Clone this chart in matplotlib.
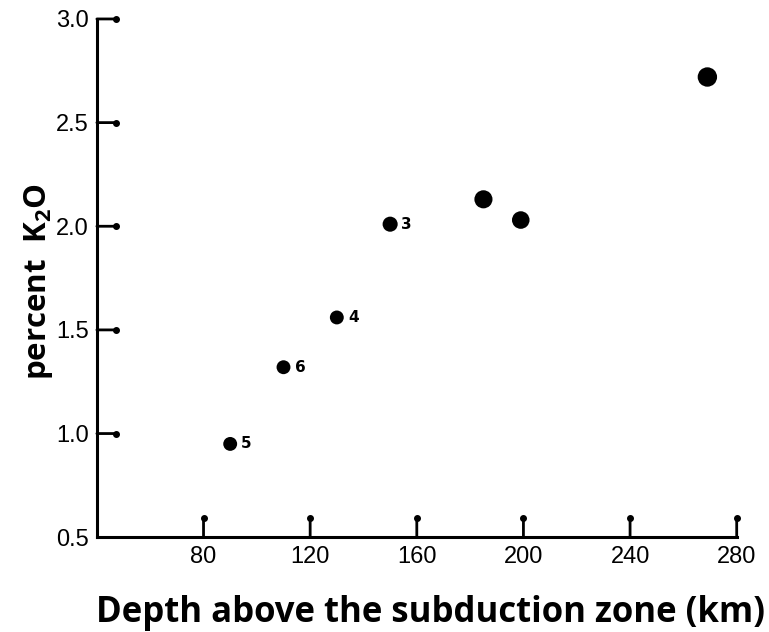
import matplotlib
matplotlib.use("Agg")
import matplotlib.pyplot as plt
from matplotlib.transforms import offset_copy

plt.rcParams["mathtext.fontset"] = "custom"
plt.rcParams["mathtext.bf"] = "Open Sans:bold"
plt.rcParams["mathtext.rm"] = "Open Sans:bold"

# Data
depth = [90, 110, 130, 150, 185, 199, 269]
k2o = [0.95, 1.32, 1.56, 2.01, 2.13, 2.03, 2.72]
sizes = [100, 100, 100, 118, 170, 160, 195]
labels = ["5", "6", "4", "3", "", "", ""]

xticks = [80, 120, 160, 200, 240, 280]
yticks = [1.0, 1.5, 2.0, 2.5, 3.0]
ytick_label_vals = [0.5, 1.0, 1.5, 2.0, 2.5, 3.0]
ytick_labels = ["0.5", "1.0", "1.5", "2.0", "2.5", "3.0"]

fig = plt.figure(figsize=(7.69, 6.32), dpi=100)
ax = fig.add_axes([0.126, 0.150, 0.832, 0.820])

ax.scatter(depth, k2o, s=sizes, color="black", zorder=3, linewidths=0)
for x, y, lab in zip(depth, k2o, labels):
    if lab:
        ax.annotate(lab, (x, y), xytext=(8, 0), textcoords="offset points",
                    ha="left", va="center", fontsize=11, fontweight="bold",
                    family="DejaVu Sans")

ax.set_xlim(40, 280)
ax.set_ylim(0.5, 3.0)

for s in ["top", "right"]:
    ax.spines[s].set_visible(False)
for s in ["left", "bottom"]:
    ax.spines[s].set_linewidth(2.2)

ax.set_xticks(xticks)
ax.set_xticklabels([str(v) for v in xticks])
ax.set_yticks(ytick_label_vals)
ax.set_yticklabels(ytick_labels)
ax.tick_params(axis="both", direction="in", length=0, pad=6, labelsize=17)
for lab in ax.get_xticklabels() + ax.get_yticklabels():
    lab.set_family("Liberation Sans")
    lab.set_color("black")

# inward tick marks with dots at their ends
tr_y = ax.get_yaxis_transform()
tr_x = ax.get_xaxis_transform()
L = 14
for v in yticks:
    ax.annotate("", xy=(0, v), xycoords=tr_y, xytext=(L, 0),
                textcoords="offset points",
                arrowprops=dict(arrowstyle="-", lw=2.0, color="black",
                                shrinkA=0, shrinkB=0))
    ax.plot([0], [v], transform=offset_copy(tr_y, fig=fig, x=L, y=0, units="points"),
            marker="o", ms=4, color="black", clip_on=False)
for v in xticks:
    ax.annotate("", xy=(v, 0), xycoords=tr_x, xytext=(0, L),
                textcoords="offset points",
                arrowprops=dict(arrowstyle="-", lw=2.0, color="black",
                                shrinkA=0, shrinkB=0))
    ax.plot([v], [0], transform=offset_copy(tr_x, fig=fig, x=0, y=L, units="points"),
            marker="o", ms=4, color="black", clip_on=False)

fig.text(39 / 769, 1 - 282 / 632, "percent  K$_{\\mathbf{2}}$O", rotation=90,
         ha="center", va="center", fontsize=22.5, fontweight="bold",
         family="Open Sans")
fig.text(431 / 769, 10 / 632, "Depth above the subduction zone (km)",
         ha="center", va="baseline", fontsize=25, fontweight="bold",
         family="Open Sans")

fig.savefig("out.png", dpi=100)
